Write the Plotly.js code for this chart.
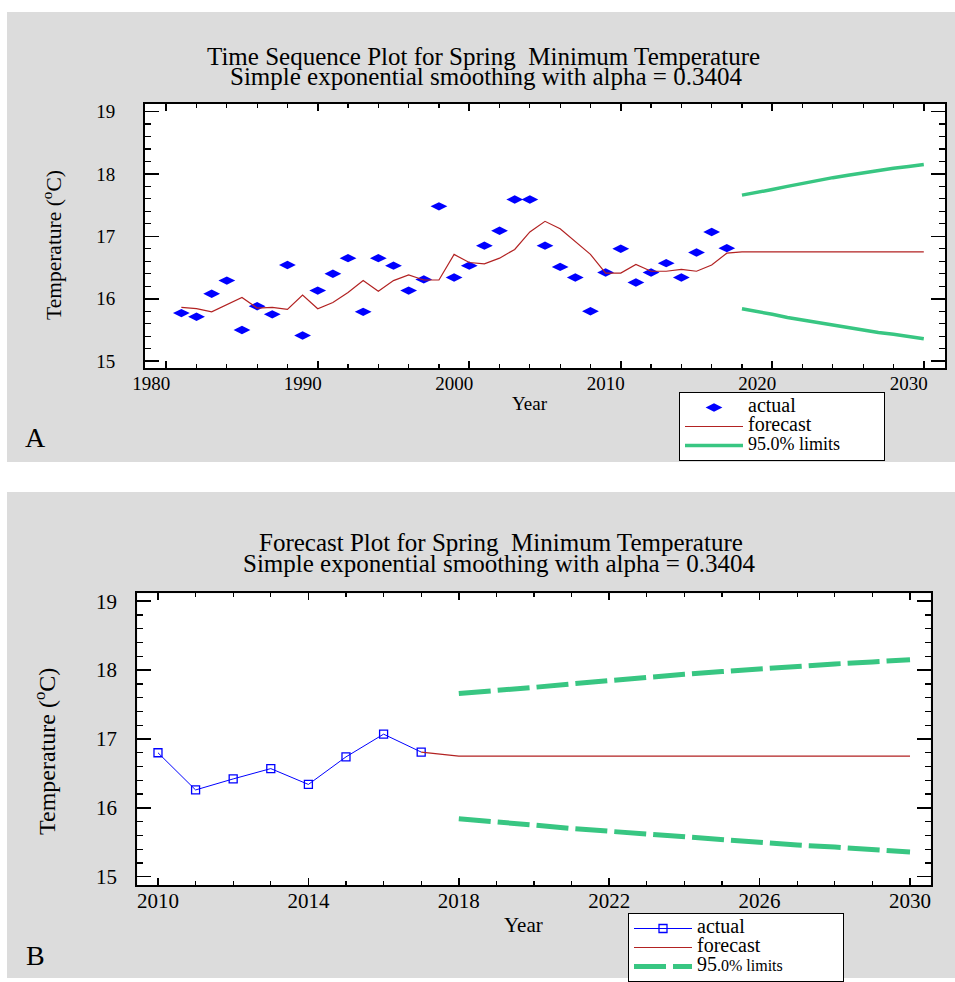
<!DOCTYPE html>
<html>
<head>
<meta charset="utf-8">
<script src="https://cdn.plot.ly/plotly-3.0.1.min.js"></script>
<style>
html,body{margin:0;padding:0;background:#ffffff;}
#chart{width:955px;height:982px;}
</style>
</head>
<body>
<div id="chart"></div>
<script>
// ---------------- data ----------------
const yearsActual = [1981,1982,1983,1984,1985,1986,1987,1988,1989,1990,
                     1991,1992,1993,1994,1995,1996,1997,1998,1999,2000,
                     2001,2002,2003,2004,2005,2006,2007,2008,2009,2010,
                     2011,2012,2013,2014,2015,2016,2017];
const actualTemp = [15.77,15.71,16.08,16.29,15.50,15.88,15.75,16.54,15.41,16.13,
                    16.40,16.65,15.79,16.65,16.53,16.13,16.31,17.48,16.34,16.53,
                    16.85,17.09,17.59,17.59,16.85,16.51,16.34,15.80,16.42,16.80,
                    16.26,16.42,16.57,16.34,16.74,17.07,16.81];
const fittedTemp = [15.86,15.84,15.79,15.91,16.02,15.85,15.86,15.83,16.06,15.84,
                    15.94,16.10,16.29,16.12,16.29,16.38,16.30,16.30,16.71,16.58,
                    16.56,16.65,16.79,17.07,17.24,17.12,16.91,16.71,16.41,16.41,
                    16.55,16.44,16.44,16.47,16.44,16.54,16.73];
const yearsForecast = [2018,2019,2020,2021,2022,2023,2024,2025,2026,2027,2028,2029,2030];
const forecastTemp = [16.75,16.75,16.75,16.75,16.75,16.75,16.75,16.75,16.75,16.75,16.75,16.75,16.75];
const upperLimit = [17.66,17.70,17.75,17.80,17.85,17.89,17.94,17.98,18.02,18.05,18.09,18.12,18.15];
const lowerLimit = [15.84,15.80,15.75,15.70,15.66,15.62,15.58,15.53,15.50,15.46,15.43,15.40,15.36];
const zoomStartYear = 2010;

// ---------------- helpers ----------------
const W = 955, H = 982;
const px = v => v / W;
const py = v => 1 - v / H;
const SERIF = 'Liberation Serif, Times New Roman, serif';
const BLUE = '#0000ff', RED = '#b22222', GREEN = '#38c682';
const pad = n => '\u00a0'.repeat(n);

const startIdx = yearsActual.indexOf(zoomStartYear);
const lastIdx = yearsActual.length - 1;

const traces = [
  // ---- panel A ----
  {x: yearsActual, y: actualTemp, type: 'scatter', mode: 'markers',
   name: '<span style="font-size:20px">actual</span>',
   marker: {symbol: 'diamond-wide', size: 12, color: BLUE},
   xaxis: 'x', yaxis: 'y', legend: 'legend'},
  {x: yearsActual.concat(yearsForecast), y: fittedTemp.concat(forecastTemp),
   type: 'scatter', mode: 'lines',
   name: '<span style="font-size:20px">forecast</span>',
   line: {color: RED, width: 1.2},
   xaxis: 'x', yaxis: 'y', legend: 'legend'},
  {x: yearsForecast, y: upperLimit, type: 'scatter', mode: 'lines',
   name: '<span style="font-size:18px">95.0% limits</span>' + pad(14),
   legendgroup: 'limA', line: {color: GREEN, width: 3.5},
   xaxis: 'x', yaxis: 'y', legend: 'legend'},
  {x: yearsForecast, y: lowerLimit, type: 'scatter', mode: 'lines',
   name: '95.0% limits', legendgroup: 'limA', showlegend: false,
   line: {color: GREEN, width: 3.5}, xaxis: 'x', yaxis: 'y', legend: 'legend'},
  // ---- panel B ----
  {x: yearsActual.slice(startIdx), y: actualTemp.slice(startIdx),
   type: 'scatter', mode: 'lines+markers',
   name: '<span style="font-size:20px">actual</span>',
   line: {color: BLUE, width: 1},
   marker: {symbol: 'square-open', size: 8, color: BLUE, line: {width: 1.3, color: BLUE}},
   xaxis: 'x2', yaxis: 'y2', legend: 'legend2'},
  {x: [yearsActual[lastIdx]].concat(yearsForecast),
   y: [actualTemp[lastIdx]].concat(forecastTemp),
   type: 'scatter', mode: 'lines',
   name: '<span style="font-size:20px">forecast</span>',
   line: {color: RED, width: 1.2},
   xaxis: 'x2', yaxis: 'y2', legend: 'legend2'},
  {x: yearsForecast, y: upperLimit, type: 'scatter', mode: 'lines',
   name: '<span style="font-size:20px">95</span><span style="font-size:16px">.0% limits</span>' + pad(20),
   legendgroup: 'limB', line: {color: GREEN, width: 5, dash: '32px,7px'},
   xaxis: 'x2', yaxis: 'y2', legend: 'legend2'},
  {x: yearsForecast, y: lowerLimit, type: 'scatter', mode: 'lines',
   name: '95.0% limits', legendgroup: 'limB', showlegend: false,
   line: {color: GREEN, width: 5, dash: '32px,7px'},
   xaxis: 'x2', yaxis: 'y2', legend: 'legend2'}
];

function xAxis(domain, range, tick0, dtick, minorD, fontSize, extra) {
  return Object.assign({
    domain: domain, range: range, tick0: tick0, dtick: dtick,
    ticks: 'inside', ticklen: 7, tickwidth: 1.6, tickcolor: '#000',
    showline: true, linewidth: 2, linecolor: '#000', mirror: 'ticks',
    showgrid: false, zeroline: false, fixedrange: true,
    tickfont: {family: SERIF, size: fontSize, color: '#000'},
    minor: {tick0: tick0, dtick: minorD, ticks: 'inside', ticklen: 4, tickwidth: 1.2, tickcolor: '#000', showgrid: false}
  }, extra || {});
}
function yAxis(domain, range, fontSize, extra) {
  return Object.assign({
    domain: domain, range: range, tick0: 15, dtick: 1,
    ticks: 'inside', ticklen: 14, tickwidth: 1.6, tickcolor: '#000',
    showline: true, linewidth: 2, linecolor: '#000', mirror: 'ticks',
    showgrid: false, zeroline: false, fixedrange: true,
    tickfont: {family: SERIF, size: fontSize, color: '#000'},
    minor: {tick0: 15, dtick: 0.2, ticks: 'inside', ticklen: 6, tickwidth: 1.2, tickcolor: '#000', showgrid: false}
  }, extra || {});
}

function ann(text, x, y, size, extra) {
  return Object.assign({text: text, x: px(x), y: py(y), xref: 'paper', yref: 'paper',
    showarrow: false, xanchor: 'center', yanchor: 'middle',
    font: {family: SERIF, size: size, color: '#000'}}, extra || {});
}

const legendBase = {
  xanchor: 'left', yanchor: 'top', bgcolor: '#ffffff', bordercolor: '#000000', borderwidth: 1,
  font: {family: SERIF, size: 11, color: '#000'}, itemwidth: 58, tracegroupgap: 0,
  orientation: 'v'
};

const layout = {
  width: W, height: H,
  margin: {l: 0, r: 0, t: 0, b: 0, pad: 0},
  paper_bgcolor: '#dcdcdc', plot_bgcolor: '#ffffff',
  showlegend: true,
  xaxis: xAxis([px(145), px(945)], [1978.6, 2031.4], 1980, 10, 2, 19,
               {anchor: 'y', ticklabelshift: -15, ticklabelstandoff: -3}),
  yaxis: yAxis([py(368), py(104)], [14.89, 19.12], 19, {anchor: 'x', ticklabelstandoff: 24}),
  xaxis2: xAxis([px(137.3), px(930.7)], [2009.45, 2030.55], 2010, 4, 1, 21,
                {anchor: 'y2', ticklabelstandoff: -5}),
  yaxis2: yAxis([py(885.3), py(593.3)], [14.875, 19.116], 21, {anchor: 'x2', ticklabelstandoff: 14}),
  legend: Object.assign({x: px(679), y: py(392)}, legendBase),
  legend2: Object.assign({x: px(628), y: py(913)}, legendBase),
  shapes: [
    {type: 'rect', xref: 'paper', yref: 'paper', x0: 0, x1: 1, y0: py(0), y1: py(12), fillcolor: '#ffffff', line: {width: 0}, layer: 'below'},
    {type: 'rect', xref: 'paper', yref: 'paper', x0: 0, x1: 1, y0: py(462), y1: py(492), fillcolor: '#ffffff', line: {width: 0}, layer: 'below'},
    {type: 'rect', xref: 'paper', yref: 'paper', x0: 0, x1: 1, y0: py(978), y1: py(982), fillcolor: '#ffffff', line: {width: 0}, layer: 'below'},
    {type: 'rect', xref: 'paper', yref: 'paper', x0: 0, x1: px(7), y0: 0, y1: 1, fillcolor: '#ffffff', line: {width: 0}, layer: 'below'}
  ],
  annotations: [
    ann('Time Sequence Plot for Spring\u00a0 Minimum Temperature', 484, 56, 25),
    ann('Simple exponential smoothing with alpha = 0.3404', 486, 76, 25),
    ann('Forecast Plot for Spring\u00a0 Minimum Temperature', 501, 542, 25),
    ann('Simple exponential smoothing with alpha = 0.3404', 499, 563, 25),
    ann('Year', 530, 403, 19),
    ann('Year', 523, 925, 21),
    ann('Temperature (<sup>o</sup>C)', 52, 245, 21.5, {textangle: -90}),
    ann('Temperature (<sup>o</sup>C)', 45, 752, 24, {textangle: -90}),
    ann('A', 35, 437, 28),
    ann('B', 35, 955, 28)
  ]
};

Plotly.newPlot('chart', traces, layout, {staticPlot: true, displayModeBar: false});
</script>
</body>
</html>
